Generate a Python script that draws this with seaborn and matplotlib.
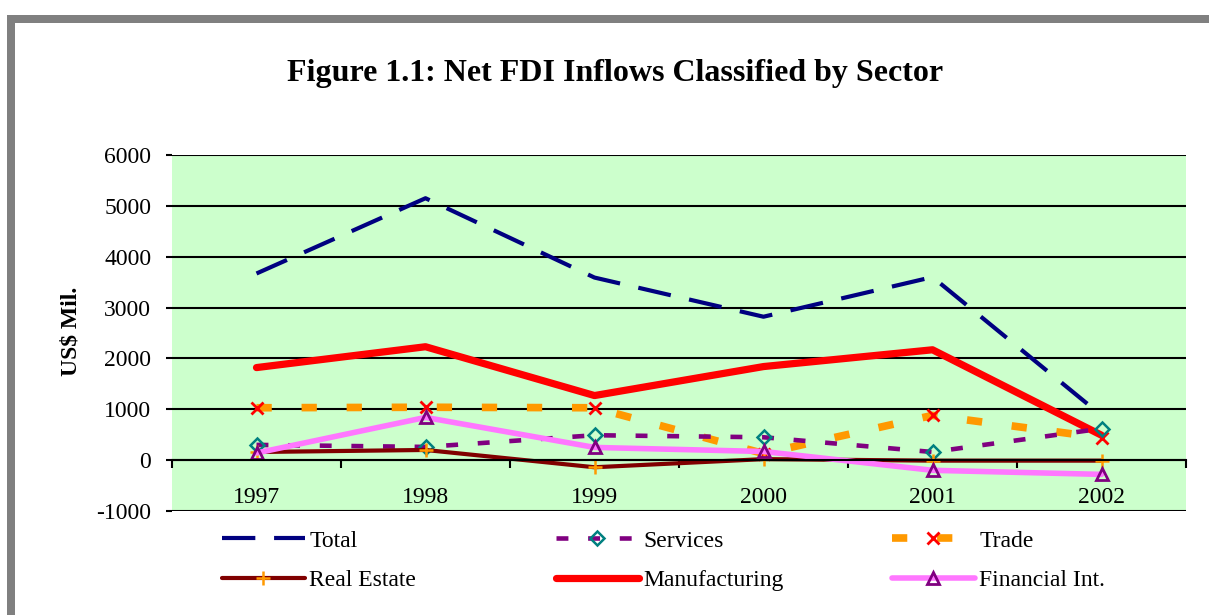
import matplotlib
matplotlib.use("Agg")
import matplotlib.pyplot as plt
from matplotlib.patches import Rectangle
import seaborn as sns

# ─── DATA ─────────────────────────────────────
years         = [1997, 1998, 1999, 2000, 2001, 2002]
total         = [3670, 5150, 3590, 2820, 3600, 880]
services      = [300, 260, 490, 450, 160, 620]
trade         = [1030, 1040, 1030, 130, 880, 440]
real_estate   = [160, 200, -140, 20, -10, -10]
manufacturing = [1820, 2230, 1270, 1840, 2170, 490]
financial     = [140, 840, 250, 170, -200, -280]

y_ticks = [-1000, 0, 1000, 2000, 3000, 4000, 5000, 6000]

# ─── STYLE ────────────────────────────────────
sns.set_style("white")
plt.rcParams["font.family"] = ["Liberation Serif", "DejaVu Serif"]
plt.rcParams["text.color"] = "black"
plt.rcParams["axes.labelcolor"] = "black"
plt.rcParams["xtick.color"] = "black"
plt.rcParams["ytick.color"] = "black"

W, H = 1209, 615
fig = plt.figure(figsize=(W / 100, H / 100), dpi=100)
ax = fig.add_axes([172 / W, 1 - 511 / H, (1186 - 172) / W, (511 - 155) / H])
ax.set_facecolor("#CCFFCC")

# gray frame (top and left bars)
fig.add_artist(Rectangle((7 / W, 0), 8 / W, 1 - 15 / H, transform=fig.transFigure,
                         facecolor="#808080", edgecolor="none"))
fig.add_artist(Rectangle((7 / W, 1 - 23 / H), 1, 8 / H, transform=fig.transFigure,
                         facecolor="#808080", edgecolor="none"))

# ─── LINES ────────────────────────────────────
series = [
    ("Total", total, dict(color="#000080", lw=3.0, ls=(0, (8, 4.5)),
                          dash_capstyle="butt")),
    ("Real Estate", real_estate, dict(color="#800000", lw=3.0, marker="+", ms=10,
                                      mew=1.8, mec="#FF9900")),
    ("Services", services, dict(color="#800080", lw=3.3, ls=(0, (2.6, 4.3)),
                                dash_capstyle="butt", marker="D", ms=7,
                                mfc="none", mec="#008080", mew=1.8)),
    ("Manufacturing", manufacturing, dict(color="#FF0000", lw=5.2,
                                          solid_capstyle="round")),
    ("Trade", trade, dict(color="#FF9900", lw=5.5, ls=(0, (2.0, 3.9)),
                          dash_capstyle="butt", marker="x", ms=9,
                          mew=2.0, mec="#FF0000")),
    ("Financial Int.", financial, dict(color="#FF77FF", lw=4.0, marker="^", ms=9,
                                       mfc="none", mec="#800080", mew=2.0)),
]

draw_order = ["Total", "Manufacturing", "Trade", "Services", "Real Estate", "Financial Int."]
lookup = {name: (vals, kw) for name, vals, kw in series}
for name in draw_order:
    vals, kw = lookup[name]
    sns.lineplot(x=years, y=vals, ax=ax, label=name, legend=False, **kw)

# ─── AXES ─────────────────────────────────────
ax.set_xlim(1996.5, 2002.5)
ax.set_ylim(-1000, 6000)
ax.set_yticks(y_ticks)
ax.set_yticklabels([str(v) for v in y_ticks], fontsize=17)
ax.yaxis.grid(True, color="black", lw=1.5)
ax.set_axisbelow(True)

for s in ["left", "right", "top"]:
    ax.spines[s].set_visible(False)
ax.spines["bottom"].set_position(("data", 0))
ax.spines["bottom"].set_color("black")
ax.spines["bottom"].set_linewidth(1.5)

ax.set_xticks([1996.5 + i for i in range(7)])
ax.set_xticklabels([])
ax.set_xticks(years, minor=True)
ax.set_xticklabels([str(y) for y in years], minor=True, fontsize=17)
ax.tick_params(axis="x", which="major", direction="out", length=6, width=1.5,
               color="black", bottom=True)
ax.tick_params(axis="x", which="minor", length=0, pad=19)
ax.tick_params(axis="y", direction="out", length=4, width=1.5, color="black",
               left=True, pad=11)

ax.set_xlabel("")
ax.set_ylabel("US$ Mil.", fontsize=17, fontweight="bold")
ax.yaxis.set_label_coords(82 / W, 1 - 331 / H, transform=fig.transFigure)

fig.suptitle("Figure 1.1: Net FDI Inflows Classified by Sector", fontsize=23,
             fontweight="bold", x=615 / W, y=1 - 73 / H, va="center")

# ─── LEGEND (three columns) ───────────────────
handles, labels = ax.get_legend_handles_labels()
hmap = dict(zip(labels, handles))
columns = [(["Total", "Real Estate"], 222),
           (["Services", "Manufacturing"], 556),
           (["Trade", "Financial Int."], 892)]
for names, xpix in columns:
    leg = fig.legend([hmap[n] for n in names], names, loc="upper left",
                     bbox_to_anchor=(xpix / W, 1 - 530 / H), frameon=False,
                     fontsize=17, handlelength=3.5, handletextpad=0.2,
                     borderpad=0, borderaxespad=0, labelspacing=0.75, numpoints=1)

fig.savefig("out.png", dpi=100)
